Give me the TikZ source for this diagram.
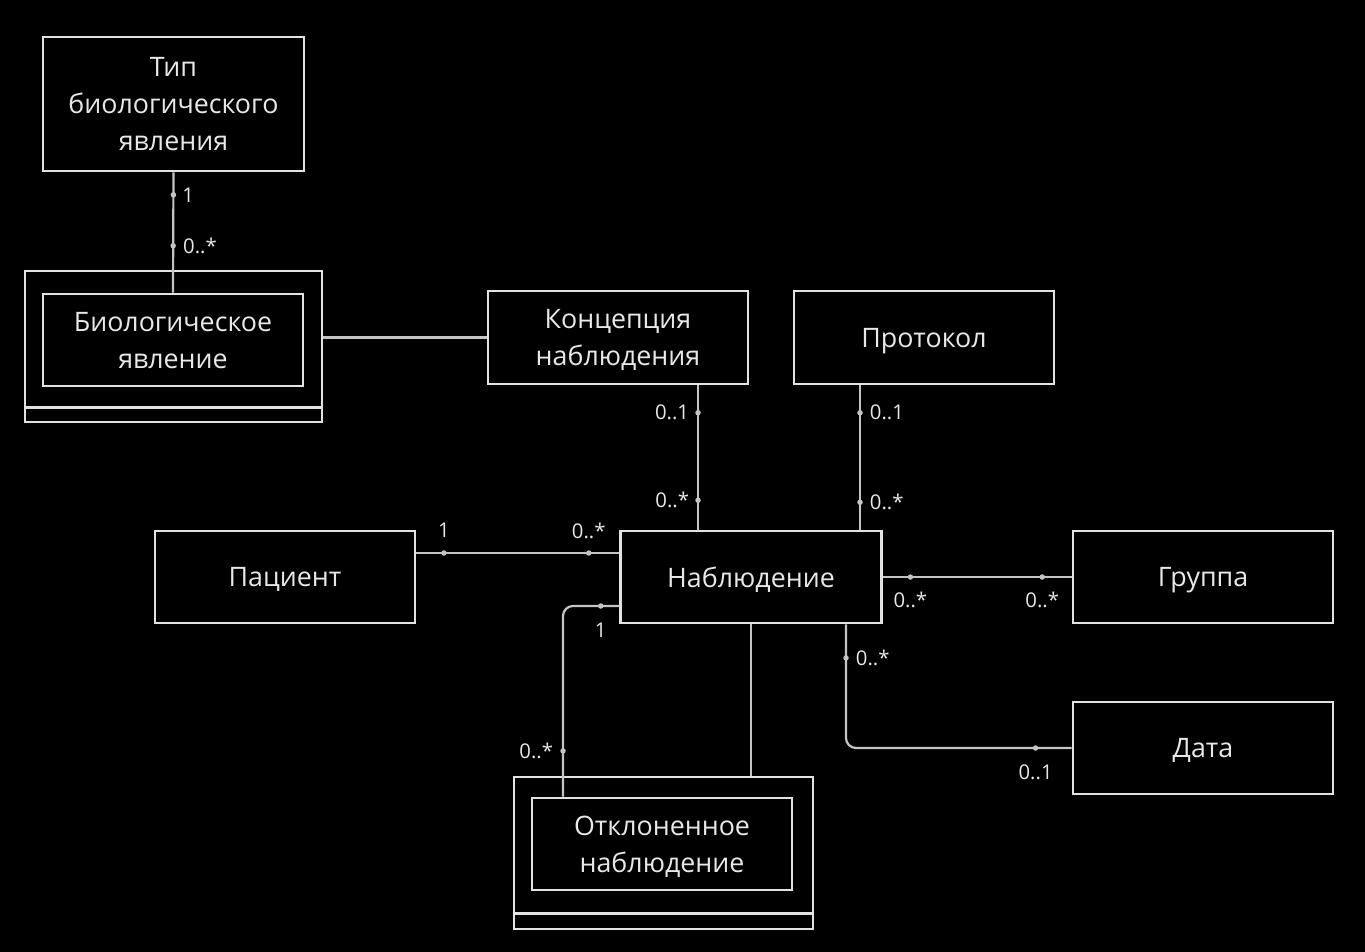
\documentclass[tikz,border=0pt]{standalone}
\usepackage{fontspec}
\setmainfont{Open Sans}
\usetikzlibrary{calc}
\definecolor{boxc}{RGB}{226,226,226}
\definecolor{linec}{RGB}{196,196,196}
\definecolor{txtc}{RGB}{232,232,232}
\begin{document}
\begin{tikzpicture}[x=1pt,y=-1pt,
  entity/.style={draw=boxc, line width=2.6pt, align=center, text=txtc,
    font=\fontsize{26.8}{37}\selectfont, inner sep=0pt, text depth=-1.5pt,
    minimum width=260pt, minimum height=92pt},
  frame/.style={draw=boxc, line width=2.6pt, inner sep=0pt},
  conn/.style={draw=linec, line width=2.2pt, rounded corners=10pt},
  mdot/.style={circle, fill=linec, inner sep=0pt, minimum size=5.5pt},
  mlab/.style={text=txtc, font=\fontsize{20.3}{22}\selectfont, inner sep=1pt}
]
% canvas
\fill[black] (0,0) rectangle (1365,952);
\useasboundingbox (0,0) rectangle (1365,952);

% weak entities: outer frame with a bottom band
\node[frame, minimum width=297pt, minimum height=151pt] (bioout) at (173.5,346.5) {};
\node[frame, minimum width=299pt, minimum height=152pt] (rejout) at (663.5,853) {};
\draw[boxc, line width=2.6pt] ($(bioout.south west)+(0,-16)$) -- ($(bioout.south east)+(0,-16)$);
\draw[boxc, line width=2.6pt] ($(rejout.south west)+(0,-17)$) -- ($(rejout.south east)+(0,-17)$);

% entities
\node[entity, minimum width=261pt, minimum height=134pt] (tip) at (173.5,104)
  {Тип\\биологического\\явления};
\node[entity] (bioin) at (173,340) {Биологическое\\явление};
\node[entity, minimum height=93pt] (konc) at (618,337.5) {Концепция\\наблюдения};
\node[entity, minimum height=93pt] (prot) at (924,337.5) {Протокол};
\node[entity] (pat) at (285,577) {Пациент};
\node[entity, minimum width=261pt] (obs) at (751,577) {Наблюдение};
\node[entity] (grp) at (1203,577) {Группа};
\node[entity] (date) at (1203,748) {Дата};
\node[entity] (rejin) at (662,844) {Отклоненное\\наблюдение};

% connector anchor points off the node centres
\coordinate (kc) at ($(konc.south)+(80,0)$);
\coordinate (pc) at ($(prot.south)+(-64,0)$);
\coordinate (dc) at ($(obs.south)+(95,0)$);
\coordinate (rc) at ($(rejin.north)+(-99,0)$);

% associations
\draw[conn] (tip.south) --
  node[mdot, pos=0.187, label={[mlab, label distance=3pt]right:1}] {}
  node[mdot, pos=0.61, label={[mlab, label distance=4pt]right:0..*}] {}
  (bioin.north);

\draw[conn] (bioout.east |- konc.west) -- (konc.west);

\draw[conn] (kc) --
  node[mdot, pos=0.19, label={[mlab, label distance=3pt]left:0..1}] {}
  node[mdot, pos=0.796, label={[mlab, label distance=3pt]left:0..*}] {}
  (kc |- obs.north);

\draw[conn] (pc) --
  node[mdot, pos=0.19, label={[mlab, label distance=4pt]right:0..1}] {}
  node[mdot, pos=0.81, label={[mlab, label distance=4pt]right:0..*}] {}
  (pc |- obs.north);

\draw[conn] ($(pat.east)+(0,-24)$) --
  node[mdot, pos=0.136, label={[mlab, label distance=10pt]above:1}] {}
  node[mdot, pos=0.85, label={[mlab, label distance=8pt]above:0..*}] {}
  ($(obs.west)+(0,-24)$);

\draw[conn] (obs.east) --
  node[mdot, pos=0.146, label={[mlab, label distance=9pt]below:0..*}] {}
  node[mdot, pos=0.844, label={[mlab, label distance=9pt]below:0..*}] {}
  (grp.west);

\draw[conn] (dc) |-
  node[mdot, pos=0.136, label={[mlab, label distance=4pt]right:0..*}] {}
  node[mdot, pos=0.92, label={[mlab, label distance=11pt]below:0..1}] {}
  (date.west);

\draw[conn] (obs.south) -- (obs.south |- rejout.north);

\draw[conn] ($(obs.west)+(0,29)$) -|
  node[mdot, pos=0.164, label={[mlab, label distance=11pt]below:1}] {}
  node[mdot, pos=0.88, label={[mlab, label distance=4pt]left:0..*}] {}
  (rc);
\end{tikzpicture}
\end{document}
